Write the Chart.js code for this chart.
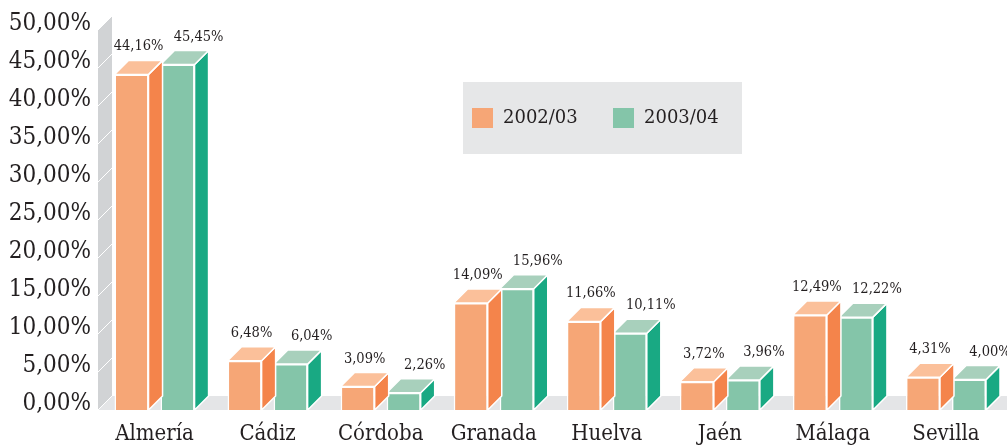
<!DOCTYPE html>
<html>
<head>
<meta charset="utf-8">
<script src="https://cdn.jsdelivr.net/npm/chart.js@4/dist/chart.umd.min.js"></script>
<style>
  html, body { margin: 0; padding: 0; background: #fff; }
  #wrap { width: 1007px; height: 447px; position: relative; }
</style>
</head>
<body>
<div id="wrap"><canvas id="cuotaChart"></canvas></div>
<script>
var provincias = ['Almería', 'Cádiz', 'Córdoba', 'Granada', 'Huelva', 'Jaén', 'Málaga', 'Sevilla'];
var cuota0203 = [44.16, 6.48, 3.09, 14.09, 11.66, 3.72, 12.49, 4.31];
var cuota0304 = [45.45, 6.04, 2.26, 15.96, 10.11, 3.96, 12.22, 4.00];
var campanas = ['2002/03', '2003/04'];
var ticksY = [0, 5, 10, 15, 20, 25, 30, 35, 40, 45, 50];

// profundidad de la perspectiva
var DX = 14, DY = 14;
var TEXTO = '#231F20';
var SERIF = '"DejaVu Serif Condensed", "Liberation Serif", serif';
var caras = [
    { front: '#F6A676', side: '#F4844B', top: '#FBC09A' },
    { front: '#84C5A9', side: '#19A983', top: '#A8D0BC' }
];

function pct(v) {
    return Number(v).toFixed(2).replace('.', ',') + '%';
}

function poligono(ctx, pts, fill) {
    ctx.beginPath();
    ctx.moveTo(pts[0][0], pts[0][1]);
    for (var i = 1; i < pts.length; i++) ctx.lineTo(pts[i][0], pts[i][1]);
    ctx.closePath();
    ctx.fillStyle = fill;
    ctx.fill();
    ctx.stroke();
}

var efecto3d = {
    id: 'efecto3d',
    beforeDatasetsDraw: function (chart) {
        var ctx = chart.ctx, area = chart.chartArea, y = chart.scales.y;
        var base = y.getPixelForValue(0), tope = y.getPixelForValue(50);
        var L = area.left;
        ctx.save();
        ctx.strokeStyle = 'rgba(0,0,0,0)';
        // pared del fondo
        poligono(ctx, [[L, tope], [L + DX, tope - DY], [L + DX, base - DY], [L, base]], '#D1D3D5');
        // suelo
        poligono(ctx, [[L, base], [L + DX, base - DY], [chart.width, base - DY], [chart.width, base]], '#E4E5E7');
        // líneas de la pared
        ctx.strokeStyle = '#FFFFFF';
        ctx.lineWidth = 1;
        y.ticks.forEach(function (t) {
            var py = y.getPixelForValue(t.value);
            ctx.beginPath();
            ctx.moveTo(L, py);
            ctx.lineTo(L + DX, py - DY);
            ctx.stroke();
        });
        ctx.restore();
    },
    beforeDatasetDraw: function (chart, args) {
        var ctx = chart.ctx, c = caras[args.index];
        var meta = chart.getDatasetMeta(args.index);
        ctx.save();
        ctx.strokeStyle = '#FFFFFF';
        ctx.lineWidth = 1.5;
        ctx.lineJoin = 'round';
        meta.data.forEach(function (bar) {
            var p = bar.getProps(['x', 'y', 'base', 'width'], true);
            var l = p.x - p.width / 2, r = p.x + p.width / 2;
            poligono(ctx, [[r, p.y], [r + DX, p.y - DY], [r + DX, p.base - DY], [r, p.base]], c.side);
            poligono(ctx, [[l, p.y], [l + DX, p.y - DY], [r + DX, p.y - DY], [r, p.y]], c.top);
        });
        ctx.restore();
    },
    afterDatasetsDraw: function (chart) {
        var ctx = chart.ctx;
        ctx.save();
        ctx.fillStyle = TEXTO;
        ctx.font = '14.5px ' + SERIF;
        ctx.textAlign = 'center';
        ctx.textBaseline = 'alphabetic';
        chart.data.datasets.forEach(function (ds, i) {
            chart.getDatasetMeta(i).data.forEach(function (bar, j) {
                var p = bar.getProps(['x', 'y'], true);
                var desplaza = DX / 2 + (i === 1 ? 14 : 0);
                ctx.fillText(pct(ds.data[j]), p.x + desplaza, p.y - DY - 10);
            });
        });
        ctx.restore();
    },
    afterDraw: function (chart) {
        // leyenda sobre fondo gris
        var ctx = chart.ctx;
        ctx.save();
        ctx.fillStyle = '#E6E7E8';
        ctx.fillRect(463, 82, 279, 72);
        ctx.font = '18px "DejaVu Serif", serif';
        ctx.textBaseline = 'middle';
        ctx.textAlign = 'left';
        chart.data.datasets.forEach(function (ds, i) {
            var x = 472 + i * 141;
            ctx.fillStyle = ds.backgroundColor;
            ctx.fillRect(x, 108, 21, 20);
            ctx.fillStyle = TEXTO;
            ctx.fillText(ds.label, x + 31, 118);
        });
        ctx.restore();
    }
};

var ctx = document.getElementById('cuotaChart').getContext('2d');
var cuotaChart = new Chart(ctx, {
    type: 'bar',
    data: {
        labels: provincias,
        datasets: [{
            label: campanas[0],
            data: cuota0203,
            backgroundColor: caras[0].front,
            borderColor: '#FFFFFF',
            borderWidth: 1.5
        }, {
            label: campanas[1],
            data: cuota0304,
            backgroundColor: caras[1].front,
            borderColor: '#FFFFFF',
            borderWidth: 1.5
        }]
    },
    options: {
        responsive: true,
        maintainAspectRatio: false,
        animation: false,
        barPercentage: 0.74,
        categoryPercentage: 0.814,
        layout: { padding: { top: 30, right: 4.5, left: 0, bottom: 0 } },
        plugins: {
            legend: { display: false },
            tooltip: { enabled: false }
        },
        scales: {
            x: {
                grid: { display: false, drawTicks: false },
                border: { display: false },
                ticks: {
                    padding: 11,
                    color: TEXTO,
                    font: { family: SERIF, size: 22 }
                },
                afterFit: function (s) { s.height = 37; }
            },
            y: {
                min: 0,
                max: 50,
                afterBuildTicks: function (s) {
                    s.ticks = ticksY.map(function (v) { return { value: v }; });
                },
                grid: { display: false, drawTicks: false },
                border: { display: false },
                ticks: {
                    padding: 7,
                    labelOffset: -6,
                    color: TEXTO,
                    font: { family: SERIF, size: 24 },
                    callback: function (v) { return pct(v); }
                },
                afterFit: function (s) { s.width = 98; }
            }
        }
    },
    plugins: [efecto3d]
});
</script>
</body>
</html>
